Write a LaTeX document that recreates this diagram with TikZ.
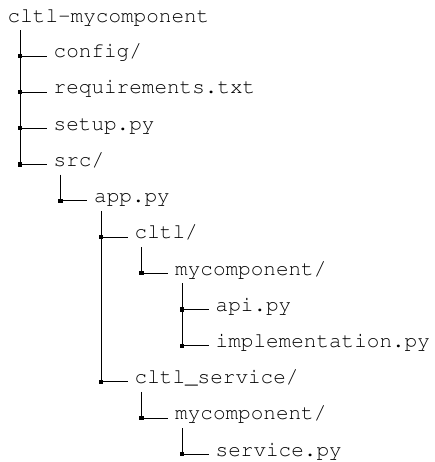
\documentclass[tikz,border=0pt]{standalone}
\usepackage[T1]{fontenc}
\usetikzlibrary{calc}
\tikzset{
  entry/.style={anchor=base west,inner sep=0pt,text depth=6pt,
                font=\fontfamily{pcr}\fontsize{21}{24}\selectfont},
  branch/.style={black,line width=0.8pt},
  knot/.style={fill=black,inner sep=0pt,minimum size=4.2pt},
}

\begin{document}
\begin{tikzpicture}[x=1pt,y=-1pt]
  \path[use as bounding box] (0,0) rectangle (435,462);

  \node[entry] (root) at (7.5,22.3) {cltl-mycomponent};

  % name / level / row / label
  \foreach \nm/\lv/\rw/\txt in {
    config/1/1/{config/},
    reqs/1/2/{requirements.txt},
    setup/1/3/{setup.py},
    src/1/4/{src/},
    app/2/5/{app.py},
    cltl/3/6/{cltl/},
    mycomp/4/7/{mycomponent/},
    api/5/8/{api.py},
    impl/5/9/{implementation.py},
    svc/3/10/{cltl\_service/},
    svccomp/4/11/{mycomponent/},
    svcpy/5/12/{service.py}
  }{
    \pgfmathsetmacro\jx{20+40.5*(\lv-1)}
    \pgfmathsetmacro\jy{19.8+36.2*\rw}
    \coordinate (j-\nm) at (\jx,\jy);
    \node[entry] (\nm) at (\jx+33.5,\jy+1.8) {\txt};
  }

  % trunks: parent / last child
  \foreach \up/\dn in {root/src, src/app, app/svc, cltl/mycomp,
                       mycomp/impl, svc/svccomp, svccomp/svcpy}{
    \draw[branch,shorten <=2pt] (\up.south -| j-\dn) -- (j-\dn);
  }

  % twigs
  \foreach \nm in {config,reqs,setup,src,app,cltl,mycomp,api,impl,svc,svccomp,svcpy}{
    \draw[branch,shorten >=7pt] (j-\nm) -- (j-\nm -| \nm.west);
    \node[knot] at (j-\nm) {};
  }
\end{tikzpicture}
\end{document}
